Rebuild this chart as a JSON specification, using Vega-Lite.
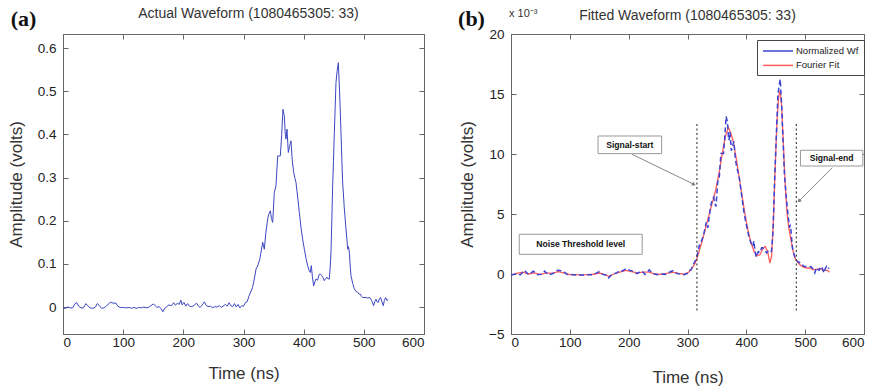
{
  "$schema": "https://vega.github.io/schema/vega-lite/v6.json",
  "background": "white",
  "padding": {"left": 6, "top": 6, "right": 4, "bottom": 2},
  "spacing": 32,
  "resolve": {"legend": {"color": "independent"}},
  "config": {
    "view": {"stroke": "#666", "strokeWidth": 1},
    "font": "Liberation Sans",
    "axis": {"grid": false, "domainColor": "#666", "tickColor": "#666", "tickSize": -5, "labelFont": "Liberation Sans", "labelFontSize": 13.5, "labelColor": "#222", "titleFont": "Liberation Sans", "titleFontSize": 17, "titleFontWeight": "normal", "titleColor": "#333"},
    "axisX": {"labelPadding": 6, "titlePadding": 17},
    "axisY": {"labelPadding": 12, "titlePadding": 12}
  },
  "datasets": {
    "a": [
      {"t":0,"v":-0.003},{"t":4,"v":-0.003},{"t":8,"v":0.0},{"t":12,"v":-0.002},{"t":16,"v":-0.002},{"t":20,"v":0.008},{"t":23,"v":0.010},{"t":26,"v":0.002},{"t":30,"v":-0.002},{"t":34,"v":-0.002},{"t":38,"v":0.008},{"t":41,"v":0.003},{"t":45,"v":-0.002},{"t":50,"v":-0.003},{"t":54,"v":0.0},{"t":57,"v":0.008},{"t":60,"v":0.004},{"t":64,"v":-0.003},{"t":68,"v":-0.002},{"t":72,"v":0.002},{"t":76,"v":0.008},{"t":79,"v":0.011},{"t":83,"v":0.009},{"t":88,"v":0.009},{"t":91,"v":0.002},{"t":95,"v":-0.001},{"t":100,"v":-0.001},{"t":105,"v":-0.002},{"t":110,"v":-0.001},{"t":114,"v":-0.003},{"t":118,"v":-0.001},{"t":122,"v":-0.003},{"t":126,"v":-0.001},{"t":130,"v":-0.002},{"t":134,"v":0.0},{"t":138,"v":-0.002},{"t":142,"v":-0.001},{"t":146,"v":0.003},{"t":150,"v":0.007},{"t":153,"v":0.004},{"t":156,"v":-0.001},{"t":160,"v":0.001},{"t":163,"v":-0.004},{"t":166,"v":-0.011},{"t":169,"v":-0.003},{"t":172,"v":0.0},{"t":176,"v":0.005},{"t":180,"v":0.003},{"t":184,"v":0.010},{"t":187,"v":0.004},{"t":190,"v":0.009},{"t":193,"v":0.006},{"t":196,"v":0.016},{"t":198,"v":0.005},{"t":201,"v":0.011},{"t":204,"v":0.002},{"t":207,"v":0.008},{"t":210,"v":0.002},{"t":214,"v":0.001},{"t":218,"v":0.004},{"t":222,"v":0.009},{"t":225,"v":0.002},{"t":228,"v":-0.001},{"t":231,"v":0.004},{"t":235,"v":0.012},{"t":238,"v":0.004},{"t":241,"v":0.001},{"t":245,"v":0.002},{"t":249,"v":-0.002},{"t":252,"v":0.001},{"t":256,"v":0.0},{"t":260,"v":0.003},{"t":263,"v":-0.001},{"t":266,"v":0.002},{"t":270,"v":0.006},{"t":273,"v":0.002},{"t":276,"v":0.010},{"t":279,"v":0.003},{"t":282,"v":0.001},{"t":285,"v":0.008},{"t":288,"v":0.0},{"t":291,"v":0.006},{"t":294,"v":-0.002},{"t":297,"v":0.003},{"t":300,"v":0.002},{"t":303,"v":0.010},{"t":306,"v":0.012},{"t":309,"v":0.025},{"t":312,"v":0.035},{"t":315,"v":0.045},{"t":318,"v":0.065},
      {"t":320.8,"v":0.088},{"t":323.5,"v":0.095},{"t":327,"v":0.110},{"t":331.9,"v":0.150},{"t":334.6,"v":0.134},{"t":337,"v":0.170},{"t":340.2,"v":0.204},{"t":342,"v":0.215},{"t":344.6,"v":0.223},{"t":346.5,"v":0.205},{"t":348.5,"v":0.196},{"t":351.2,"v":0.265},{"t":354,"v":0.281},{"t":356.8,"v":0.350},{"t":361.2,"v":0.350},{"t":363.5,"v":0.400},{"t":365.6,"v":0.458},{"t":367.8,"v":0.443},{"t":369.5,"v":0.400},{"t":370.6,"v":0.389},{"t":372.3,"v":0.412},{"t":374.5,"v":0.358},{"t":376.5,"v":0.372},{"t":378.9,"v":0.385},{"t":381,"v":0.340},{"t":383.4,"v":0.312},{"t":385.5,"v":0.298},{"t":387.2,"v":0.289},{"t":390,"v":0.255},{"t":392.8,"v":0.219},{"t":395.5,"v":0.185},{"t":398.3,"v":0.157},{"t":401.1,"v":0.134},{"t":404,"v":0.112},{"t":406.6,"v":0.096},{"t":409,"v":0.085},{"t":411.1,"v":0.080},{"t":412.7,"v":0.096},{"t":414.5,"v":0.070},{"t":416.6,"v":0.049},{"t":418.5,"v":0.058},{"t":420.5,"v":0.065},{"t":423,"v":0.062},{"t":426,"v":0.076},{"t":428,"v":0.076},{"t":429.9,"v":0.073},{"t":432,"v":0.068},{"t":434.3,"v":0.061},{"t":436.5,"v":0.066},{"t":438.8,"v":0.069},{"t":440.5,"v":0.065},{"t":442.6,"v":0.065},{"t":444,"v":0.090},{"t":445.4,"v":0.127},{"t":446.8,"v":0.200},{"t":448.2,"v":0.281},{"t":449.6,"v":0.340},{"t":451,"v":0.404},{"t":452.4,"v":0.465},{"t":453.7,"v":0.520},{"t":455.5,"v":0.545},{"t":457.6,"v":0.566},{"t":459.3,"v":0.512},{"t":460.7,"v":0.460},{"t":462,"v":0.404},{"t":463.4,"v":0.345},{"t":464.8,"v":0.289},{"t":467.5,"v":0.230},{"t":470.3,"v":0.181},{"t":471.7,"v":0.160},{"t":473.1,"v":0.134},{"t":474.5,"v":0.140},{"t":475.9,"v":0.127},{"t":477.3,"v":0.095},{"t":478.6,"v":0.073},{"t":481.4,"v":0.055},{"t":484.2,"v":0.042},{"t":487,"v":0.036},{"t":489.8,"v":0.034},{"t":492,"v":0.030},{"t":494.2,"v":0.030},{"t":496,"v":0.025},{"t":498.1,"v":0.022},{"t":502,"v":0.022},{"t":506,"v":0.021},{"t":510,"v":0.022},{"t":513,"v":0.015},{"t":516.3,"v":0.003},{"t":518,"v":0.012},{"t":520.2,"v":0.018},{"t":522,"v":0.012},{"t":524.1,"v":0.011},{"t":526,"v":0.020},{"t":528,"v":0.022},{"t":530,"v":0.012},{"t":532.4,"v":0.003},{"t":534,"v":0.015},{"t":536.2,"v":0.022},{"t":538.5,"v":0.015},{"t":540.7,"v":0.018}
    ],
    "bw": [
      {"t":0,"v":-0.09},{"t":8,"v":0.0},{"t":16,"v":-0.06},{"t":23,"v":0.29},{"t":30,"v":-0.06},{"t":38,"v":0.23},{"t":45,"v":-0.06},{"t":54,"v":0.0},{"t":57,"v":0.23},{"t":64,"v":-0.09},{"t":72,"v":0.06},{"t":79,"v":0.32},{"t":88,"v":0.26},{"t":95,"v":-0.03},{"t":105,"v":-0.06},{"t":114,"v":-0.09},{"t":122,"v":-0.09},{"t":130,"v":-0.06},{"t":138,"v":-0.06},{"t":146,"v":0.09},{"t":150,"v":0.2},{"t":156,"v":-0.03},{"t":163,"v":-0.11},{"t":166,"v":-0.32},{"t":172,"v":0.0},{"t":180,"v":0.09},{"t":184,"v":0.29},{"t":190,"v":0.26},{"t":196,"v":0.46},{"t":201,"v":0.32},{"t":207,"v":0.23},{"t":214,"v":0.03},{"t":222,"v":0.26},{"t":228,"v":-0.03},{"t":235,"v":0.34},{"t":241,"v":0.03},{"t":249,"v":-0.06},{"t":256,"v":0.0},{"t":263,"v":-0.03},{"t":270,"v":0.17},{"t":276,"v":0.29},{"t":282,"v":0.03},{"t":288,"v":0.0},{"t":294,"v":-0.06},{"t":300,"v":0.06},{"t":303,"v":0.29},{"t":306,"v":0.34},{"t":309,"v":0.72},{"t":312,"v":1.0},{"t":315,"v":1.29},{"t":318,"v":1.87},
      {"t":320.8,"v":2.53},{"t":323.5,"v":2.73},{"t":327,"v":3.16},{"t":331.9,"v":4.31},{"t":334.6,"v":3.85},{"t":337,"v":4.88},{"t":340.2,"v":5.85},{"t":342,"v":6.17},{"t":344.6,"v":6.40},{"t":346.5,"v":5.88},{"t":348.5,"v":5.63},{"t":351.2,"v":7.61},{"t":354,"v":8.06},{"t":356.8,"v":10.05},{"t":361.2,"v":10.05},{"t":363.5,"v":11.48},{"t":365.6,"v":13.14},{"t":367.8,"v":12.71},{"t":369.5,"v":11.48},{"t":370.6,"v":11.16},{"t":372.3,"v":11.82},{"t":374.5,"v":10.27},{"t":376.5,"v":10.68},{"t":378.9,"v":11.05},{"t":381,"v":9.76},{"t":383.4,"v":8.95},{"t":385.5,"v":8.55},{"t":387.2,"v":8.29},{"t":390,"v":7.32},{"t":392.8,"v":6.29},{"t":395.5,"v":5.31},{"t":398.3,"v":4.51},{"t":401.1,"v":3.85},{"t":404,"v":3.21},{"t":406.6,"v":2.76},{"t":409,"v":2.44},{"t":411.1,"v":2.30},{"t":412.7,"v":2.76},{"t":414.5,"v":2.01},{"t":416.6,"v":1.41},{"t":418.5,"v":1.66},{"t":420.5,"v":1.87},{"t":423,"v":1.78},{"t":426,"v":2.18},{"t":428,"v":2.18},{"t":429.9,"v":2.10},{"t":432,"v":1.95},{"t":434.3,"v":1.75},{"t":436.5,"v":1.89},{"t":438.8,"v":1.98},{"t":440.5,"v":1.87},{"t":442.6,"v":1.87},{"t":444,"v":2.58},{"t":445.4,"v":3.64},{"t":446.8,"v":5.74},{"t":448.2,"v":8.06},{"t":449.6,"v":9.76},{"t":451,"v":11.59},{"t":452.4,"v":13.35},{"t":453.7,"v":14.92},{"t":455.5,"v":15.64},{"t":457.6,"v":16.24},{"t":459.3,"v":14.69},{"t":460.7,"v":13.20},{"t":462,"v":11.59},{"t":463.4,"v":9.90},{"t":464.8,"v":8.29},{"t":467.5,"v":6.60},{"t":470.3,"v":5.19},{"t":471.7,"v":4.59},{"t":473.1,"v":3.85},{"t":474.5,"v":4.02},{"t":475.9,"v":3.64},{"t":477.3,"v":2.73},{"t":478.6,"v":2.10},{"t":481.4,"v":1.58},{"t":484.2,"v":1.21},{"t":487,"v":1.03},{"t":489.8,"v":0.98},{"t":492,"v":0.86},{"t":494.2,"v":0.86},{"t":496,"v":0.72},{"t":498.1,"v":0.63},{"t":502,"v":0.63},{"t":506,"v":0.60},{"t":510,"v":0.63},{"t":513,"v":0.43},{"t":516.3,"v":0.09},{"t":518,"v":0.34},{"t":520.2,"v":0.52},{"t":522,"v":0.34},{"t":524.1,"v":0.32},{"t":526,"v":0.57},{"t":528,"v":0.63},{"t":530,"v":0.34},{"t":532.4,"v":0.09},{"t":534,"v":0.43},{"t":536.2,"v":0.63},{"t":538.5,"v":0.43},{"t":540.7,"v":0.52}
    ],
    "bf": [
      {"t":0,"v":-0.1},{"t":10,"v":0.05},{"t":20,"v":0.15},{"t":30,"v":0.0},{"t":40,"v":0.1},{"t":50,"v":-0.05},{"t":60,"v":0.1},{"t":70,"v":0.05},{"t":80,"v":0.2},{"t":90,"v":0.1},{"t":100,"v":-0.05},{"t":110,"v":-0.05},{"t":120,"v":-0.08},{"t":130,"v":-0.05},{"t":140,"v":-0.02},{"t":150,"v":0.08},{"t":160,"v":-0.05},{"t":166,"v":-0.2},{"t":175,"v":0.0},{"t":185,"v":0.15},{"t":195,"v":0.3},{"t":205,"v":0.2},{"t":215,"v":0.1},{"t":225,"v":0.15},{"t":235,"v":0.15},{"t":245,"v":0.0},{"t":255,"v":-0.03},{"t":265,"v":0.05},{"t":275,"v":0.15},{"t":285,"v":0.05},{"t":295,"v":-0.02},{"t":302,"v":0.15},{"t":308,"v":0.5},{"t":313,"v":0.9},{"t":318,"v":1.6},{"t":324,"v":2.6},{"t":330,"v":3.7},{"t":336,"v":4.8},{"t":342,"v":5.9},{"t":348,"v":7.0},{"t":354,"v":8.5},{"t":360,"v":10.3},{"t":365,"v":11.6},{"t":369.5,"v":12.2},{"t":374,"v":11.7},{"t":378,"v":11.0},{"t":383,"v":9.6},{"t":388,"v":8.0},{"t":393,"v":6.4},{"t":398,"v":4.9},{"t":403,"v":3.6},{"t":408,"v":2.6},{"t":413,"v":1.9},{"t":418,"v":1.5},{"t":423,"v":1.6},{"t":428,"v":2.1},{"t":432,"v":2.3},{"t":436,"v":1.9},{"t":440,"v":0.9},{"t":443,"v":1.5},{"t":446,"v":4.5},{"t":449,"v":8.8},{"t":452,"v":12.6},{"t":455,"v":14.8},{"t":457.5,"v":15.3},{"t":460,"v":14.0},{"t":463,"v":10.8},{"t":466,"v":7.5},{"t":469,"v":5.2},{"t":472,"v":3.9},{"t":476,"v":2.8},{"t":480,"v":1.8},{"t":484,"v":1.2},{"t":490,"v":0.8},{"t":496,"v":0.6},{"t":502,"v":0.5},{"t":508,"v":0.5},{"t":514,"v":0.35},{"t":520,"v":0.4},{"t":526,"v":0.45},{"t":532,"v":0.3},{"t":538,"v":0.3},{"t":541,"v":0.15}
    ],
    "marks": [
      {"name": "Signal-start", "t": 316, "top": 12.5, "bottom": -3.2},
      {"name": "Signal-end", "t": 485, "top": 12.5, "bottom": -3.2}
    ],
    "boxes": [
      {"label": "Signal-start", "t1": 148, "t2": 256, "v1": 10.03, "v2": 11.5, "tc": 202, "vc": 10.75},
      {"label": "Signal-end", "t1": 492, "t2": 598, "v1": 9.0, "v2": 10.31, "tc": 545, "vc": 9.65},
      {"label": "Noise Threshold level", "t1": 14, "t2": 223, "v1": 1.64, "v2": 3.31, "tc": 118.5, "vc": 2.47}
    ],
    "arrows": [
      {"label": "Signal-start", "t1": 206, "v1": 9.97, "t2": 311, "v2": 7.47},
      {"label": "Signal-end", "t1": 546, "v1": 8.86, "t2": 489.5, "v2": 6.08}
    ]
  },
  "hconcat": [
    {
      "width": 361,
      "height": 300,
      "layer": [
        {
          "data": {"name": "a"},
          "mark": {"type": "line", "color": "#3d47c2", "strokeWidth": 1},
          "encoding": {
            "x": {"field": "t", "type": "quantitative", "scale": {"domain": [0, 600], "nice": false}, "axis": {"orient": "bottom", "values": [0, 100, 200, 300, 400, 500, 600], "title": "Time (ns)", "titlePadding": 17}},
            "y": {"field": "v", "type": "quantitative", "scale": {"domain": [-0.0625, 0.6325], "nice": false, "zero": false}, "axis": {"orient": "left", "values": [0, 0.1, 0.2, 0.3, 0.4, 0.5, 0.6], "format": ".1~f", "title": "Amplitude (volts)"}}
          }
        },
        {
          "data": {"name": "a"},
          "mark": {"type": "point", "opacity": 0},
          "encoding": {
            "x": {"field": "t", "type": "quantitative", "axis": {"orient": "top", "values": [0, 100, 200, 300, 400, 500, 600], "labels": false, "title": null}},
            "y": {"field": "v", "type": "quantitative", "axis": {"orient": "right", "values": [0, 0.1, 0.2, 0.3, 0.4, 0.5, 0.6], "labels": false, "title": null}}
          }
        },
        {
          "data": {"values": [{"label": "(a)"}]},
          "mark": {"type": "text", "font": "Liberation Serif", "fontWeight": "bold", "fontSize": 22, "color": "#111", "align": "center", "baseline": "middle", "dx": -39.5, "dy": -15, "clip": false},
          "encoding": {
            "x": {"datum": 0, "type": "quantitative", "axis": null},
            "y": {"datum": 0.6325, "type": "quantitative", "axis": null},
            "text": {"field": "label"}
          }
        },
        {
          "data": {"values": [{"label": "Actual Waveform (1080465305: 33)"}]},
          "mark": {"type": "text", "font": "Liberation Sans", "fontSize": 14, "color": "#333", "align": "center", "baseline": "middle", "dx": 5, "dy": -20, "clip": false},
          "encoding": {
            "x": {"datum": 300, "type": "quantitative", "axis": null},
            "y": {"datum": 0.6325, "type": "quantitative", "axis": null},
            "text": {"field": "label"}
          }
        }
      ],
      "resolve": {"axis": {"x": "independent", "y": "independent"}}
    },
    {
      "width": 353,
      "height": 300,
      "layer": [
        {
          "data": {"name": "bf"},
          "mark": {"type": "line", "strokeWidth": 1.3},
          "encoding": {
            "x": {"field": "t", "type": "quantitative", "scale": {"domain": [0, 600], "nice": false}, "axis": {"orient": "bottom", "values": [0, 100, 200, 300, 400, 500, 600], "title": "Time (ns)", "titlePadding": 21}},
            "y": {"field": "v", "type": "quantitative", "scale": {"domain": [-5, 20], "nice": false, "zero": false}, "axis": {"orient": "left", "values": [-5, 0, 5, 10, 15, 20], "title": "Amplitude (volts)"}},
            "color": {"datum": "Fourier Fit", "scale": {"domain": ["Normalized Wf", "Fourier Fit"], "range": ["#3c44d4", "#ff5c5c"]}, "legend": {"orient": "none", "legendX": 246, "legendY": 6, "title": null, "fillColor": "white", "strokeColor": "#444", "padding": 5, "labelFont": "Liberation Sans", "labelFontSize": 9.5, "labelColor": "#222", "symbolType": "M-1,0H5", "symbolSize": 100, "symbolStrokeWidth": 1.5, "labelOffset": 22, "rowPadding": 3.4, "symbolDash": []}}
          }
        },
        {
          "data": {"name": "bw"},
          "mark": {"type": "line", "strokeWidth": 1.5, "strokeDash": [5, 3]},
          "encoding": {
            "x": {"field": "t", "type": "quantitative", "axis": null},
            "y": {"field": "v", "type": "quantitative", "axis": null},
            "color": {"datum": "Normalized Wf"}
          }
        },
        {
          "mark": {"type": "rule", "color": "#555", "strokeWidth": 1.5, "strokeDash": [6, 4]},
          "encoding": {"y": {"datum": 1.1, "type": "quantitative", "axis": null}}
        },
        {
          "data": {"name": "marks"},
          "mark": {"type": "rule", "color": "#444", "strokeWidth": 1.2, "strokeDash": [2, 2.5]},
          "encoding": {
            "x": {"field": "t", "type": "quantitative", "axis": null},
            "y": {"field": "top", "type": "quantitative", "axis": null},
            "y2": {"field": "bottom"}
          }
        },
        {
          "data": {"name": "boxes"},
          "mark": {"type": "rect", "fill": "white", "stroke": "#999", "strokeWidth": 1},
          "encoding": {
            "x": {"field": "t1", "type": "quantitative", "axis": null},
            "x2": {"field": "t2"},
            "y": {"field": "v1", "type": "quantitative", "axis": null},
            "y2": {"field": "v2"}
          }
        },
        {
          "data": {"name": "boxes"},
          "mark": {"type": "text", "font": "Liberation Sans", "fontWeight": "bold", "fontSize": 8.6, "color": "#111", "align": "center", "baseline": "middle"},
          "encoding": {
            "x": {"field": "tc", "type": "quantitative", "axis": null},
            "y": {"field": "vc", "type": "quantitative", "axis": null},
            "text": {"field": "label"}
          }
        },
        {
          "data": {"name": "arrows"},
          "mark": {"type": "rule", "color": "#888", "strokeWidth": 1},
          "encoding": {
            "x": {"field": "t1", "type": "quantitative", "axis": null},
            "x2": {"field": "t2"},
            "y": {"field": "v1", "type": "quantitative", "axis": null},
            "y2": {"field": "v2"}
          }
        },
        {
          "data": {"values": [{"t": 311, "v": 7.47}]},
          "mark": {"type": "point", "shape": "triangle-up", "filled": true, "color": "#777", "size": 18, "angle": 116, "opacity": 1},
          "encoding": {
            "x": {"field": "t", "type": "quantitative", "axis": null},
            "y": {"field": "v", "type": "quantitative", "axis": null}
          }
        },
        {
          "data": {"values": [{"t": 489.5, "v": 6.08}]},
          "mark": {"type": "point", "shape": "triangle-up", "filled": true, "color": "#777", "size": 18, "angle": 225, "opacity": 1},
          "encoding": {
            "x": {"field": "t", "type": "quantitative", "axis": null},
            "y": {"field": "v", "type": "quantitative", "axis": null}
          }
        },
        {
          "data": {"name": "bw"},
          "mark": {"type": "point", "opacity": 0},
          "encoding": {
            "x": {"field": "t", "type": "quantitative", "axis": {"orient": "top", "values": [0, 100, 200, 300, 400, 500, 600], "labels": false, "title": null}},
            "y": {"field": "v", "type": "quantitative", "axis": {"orient": "right", "values": [-5, 0, 5, 10, 15, 20], "labels": false, "title": null}}
          }
        },
        {
          "data": {"values": [{"label": "(b)"}]},
          "mark": {"type": "text", "font": "Liberation Serif", "fontWeight": "bold", "fontSize": 22, "color": "#111", "align": "center", "baseline": "middle", "dx": -39.5, "dy": -15, "clip": false},
          "encoding": {
            "x": {"datum": 0, "type": "quantitative", "axis": null},
            "y": {"datum": 20, "type": "quantitative", "axis": null},
            "text": {"field": "label"}
          }
        },
        {
          "data": {"values": [{"label": "x 10⁻³"}]},
          "mark": {"type": "text", "font": "Liberation Sans", "fontSize": 11, "color": "#333", "align": "left", "baseline": "middle", "dx": -2, "dy": -20, "clip": false},
          "encoding": {
            "x": {"datum": 0, "type": "quantitative", "axis": null},
            "y": {"datum": 20, "type": "quantitative", "axis": null},
            "text": {"field": "label"}
          }
        },
        {
          "data": {"values": [{"label": "Fitted Waveform (1080465305: 33)"}]},
          "mark": {"type": "text", "font": "Liberation Sans", "fontSize": 14, "color": "#333", "align": "center", "baseline": "middle", "dx": 0, "dy": -18, "clip": false},
          "encoding": {
            "x": {"datum": 300, "type": "quantitative", "axis": null},
            "y": {"datum": 20, "type": "quantitative", "axis": null},
            "text": {"field": "label"}
          }
        }
      ],
      "resolve": {"axis": {"x": "independent", "y": "independent"}}
    }
  ]
}
